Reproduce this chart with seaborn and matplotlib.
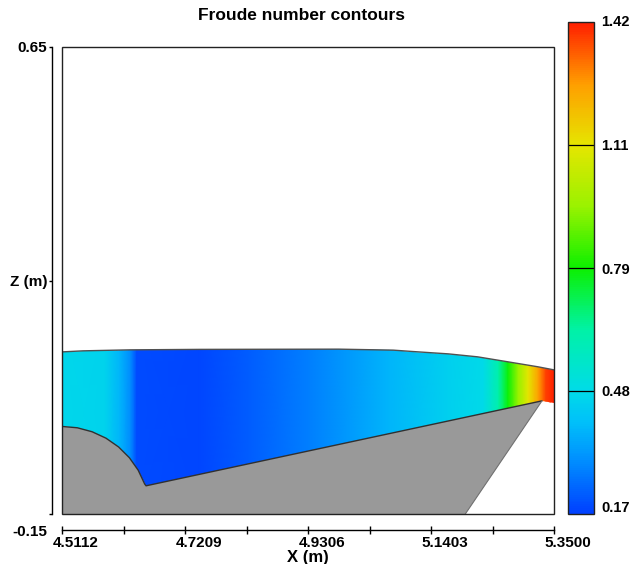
import numpy as np
import matplotlib
matplotlib.use("Agg")
import matplotlib.pyplot as plt
import seaborn as sns
from matplotlib.colors import LinearSegmentedColormap, Normalize
from matplotlib.patches import Polygon, Rectangle
from matplotlib.transforms import ScaledTranslation
import matplotlib.cm as cm

# free surface (m)
surf_x = [4.5112, 4.5470, 4.6270, 4.7455, 4.9830, 5.0760, 5.1100, 5.1700, 5.2200, 5.2720, 5.3230, 5.3500]
surf_z = [0.1277, 0.1295, 0.1312, 0.1320, 0.1324, 0.1307, 0.1283, 0.1243, 0.1192, 0.1106, 0.1021, 0.0969]

# channel bed: quarter-round hump on the left, then straight ramp up to the tip
bed_x = [4.5112, 4.5373, 4.5625, 4.5862, 4.6076, 4.6261, 4.6411, 4.6522, 4.6545, 5.3295]
bed_z = [0.0000, -0.0023, -0.0091, -0.0201, -0.0351, -0.0536, -0.0750, -0.0987, -0.1017, 0.0438]

# water bottom at the outlet, foot of the right wedge
outlet_bottom_z = 0.041
wedge_foot_x = 5.1988

# Froude number along the channel
fr_x = [4.5112, 4.5842, 4.6097, 4.6283, 4.6385, 4.7455, 4.8304, 4.9323, 5.0681, 5.1700,
        5.2294, 5.2548, 5.2718, 5.2888, 5.3058, 5.3228, 5.3363, 5.3500]
fr_val = [0.47, 0.46, 0.38, 0.30, 0.19, 0.18, 0.22, 0.28, 0.38, 0.45,
          0.48, 0.62, 0.79, 0.95, 1.10, 1.25, 1.38, 1.42]

x_ticks = [4.5112, 4.61605, 4.7209, 4.82575, 4.9306, 5.03545, 5.1403, 5.24515, 5.3500]
x_labels = ['4.5112', '', '4.7209', '', '4.9306', '', '5.1403', '', '5.3500']
y_ticks = [-0.15, 0.25, 0.65]
y_labels = ['-0.15', 'Z (m)', '0.65']
cbar_levels = [0.17, 0.4825, 0.795, 1.1075, 1.42]
cbar_labels = ['0.17', '0.48', '0.79', '1.11', '1.42']

sns.set_style("white")
plt.rcParams['font.family'] = ['Liberation Sans', 'DejaVu Sans']
plt.rcParams['font.weight'] = 'bold'
plt.rcParams['text.color'] = 'black'
plt.rcParams['axes.labelcolor'] = 'black'

cmap = LinearSegmentedColormap.from_list('froude', [
    (0.000, (0.00, 0.25, 1.00)),
    (0.104, (0.00, 0.55, 1.00)),
    (0.184, (0.00, 0.75, 0.98)),
    (0.250, (0.00, 0.86, 0.91)),
    (0.375, (0.00, 0.95, 0.65)),
    (0.500, (0.05, 0.94, 0.00)),
    (0.625, (0.60, 0.95, 0.00)),
    (0.750, (0.90, 0.90, 0.00)),
    (0.875, (1.00, 0.62, 0.00)),
    (1.000, (1.00, 0.12, 0.00)),
])
norm = Normalize(vmin=0.17, vmax=1.42)

W, H = 630, 564
fig = plt.figure(figsize=(W / 100, H / 100), dpi=100)
ax = fig.add_axes([62 / W, (H - 514) / H, 492 / W, 467 / H])
cax = fig.add_axes([568 / W, (H - 514) / H, 26 / W, 492 / H])

# water region
water_pts = list(zip(surf_x, surf_z)) + [(5.35, outlet_bottom_z)] + list(zip(bed_x, bed_z))[::-1]
water = Polygon(water_pts, closed=True, facecolor='none', edgecolor='none')
ax.add_patch(water)

FX, FZ = np.meshgrid(fr_x, [-0.15, 0.2])
FC = np.vstack([fr_val, fr_val])
mesh = ax.pcolormesh(FX, FZ, FC, cmap=cmap, norm=norm, shading='gouraud')
mesh.set_clip_path(water)

# solid obstacle
solid_pts = [(bed_x[0], -0.15)] + list(zip(bed_x, bed_z)) + [(wedge_foot_x, -0.15)]
ax.add_patch(Polygon(solid_pts, closed=True, facecolor='#999999', edgecolor='none'))

sns.lineplot(x=surf_x, y=surf_z, ax=ax, color='#505050', lw=1, estimator=None)
ax.plot(bed_x, bed_z, color='#303030', lw=1)
ax.plot([bed_x[-1], wedge_foot_x], [bed_z[-1], -0.15], color='#707070', lw=0.8)

ax.set_xlim(4.5112, 5.35)
ax.set_ylim(-0.15, 0.65)

# plot frame
ax.add_patch(Rectangle((0, 0), 1, 1, transform=ax.transAxes, fill=False,
                       lw=1, ec='#222222', clip_on=False, zorder=5))

for s in ['top', 'right']:
    ax.spines[s].set_visible(False)
ax.spines['left'].set_position(('outward', 7.2))
ax.spines['bottom'].set_position(('outward', 11.5))
for s in ['left', 'bottom']:
    ax.spines[s].set_color('black')
    ax.spines[s].set_linewidth(1)

ax.set_xticks(x_ticks, x_labels)
ax.tick_params(axis='x', bottom=True, direction='inout', length=6, width=1,
               labelsize=11, pad=1.5, colors='black')
for lab in ax.get_xticklabels():
    lab.set_transform(lab.get_transform() + ScaledTranslation(0.14, 0, fig.dpi_scale_trans))

ax.set_yticks(y_ticks, y_labels)
ax.tick_params(axis='y', left=True, direction='out', length=2.5, width=1,
               labelsize=11, pad=1, colors='black')
ylabs = ax.get_yticklabels()
ylabs[0].set_transform(ylabs[0].get_transform() + ScaledTranslation(0, -0.16, fig.dpi_scale_trans))

ax.set_xlabel('X (m)', fontsize=12, fontweight='bold', labelpad=0)
ax.set_ylabel('')

fig.text(302 / W, 1 - 15 / H, 'Froude number contours', ha='center', va='center',
         fontsize=12.5, fontweight='bold')

# colour bar
cb = fig.colorbar(cm.ScalarMappable(norm=norm, cmap=cmap), cax=cax)
cb.outline.set_linewidth(1)
cb.outline.set_edgecolor('#222222')
cb.set_ticks(cbar_levels, labels=cbar_labels)
cax.tick_params(length=0, labelsize=10.5, pad=5, colors='black')
for v in cbar_levels[1:-1]:
    cax.axhline(v, color='black', lw=0.9)
clabs = cax.get_yticklabels()
clabs[0].set_transform(clabs[0].get_transform() + ScaledTranslation(0, 0.07, fig.dpi_scale_trans))
clabs[-1].set_transform(clabs[-1].get_transform() + ScaledTranslation(0, 0.02, fig.dpi_scale_trans))

fig.savefig('out.png', dpi=100)
